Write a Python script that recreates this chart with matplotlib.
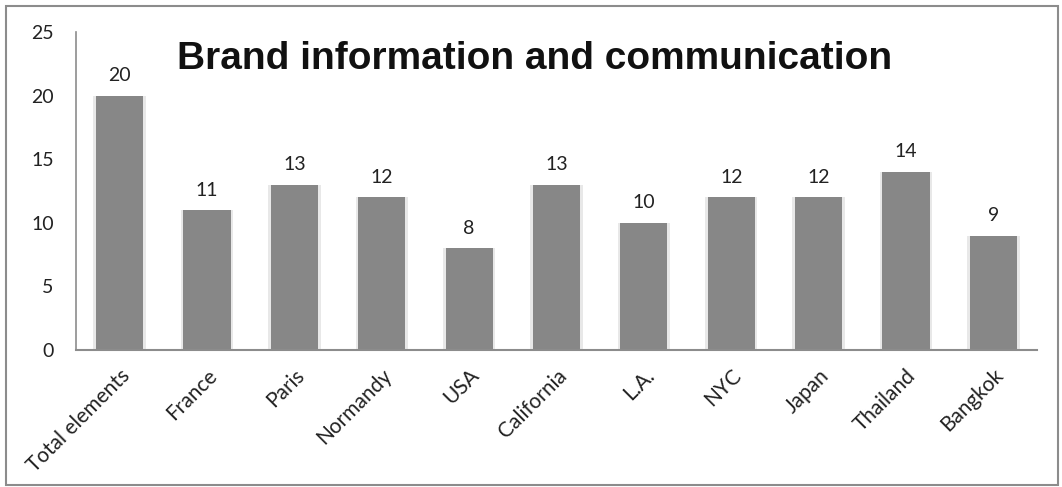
import matplotlib.pyplot as plt
from matplotlib.patches import Rectangle

categories = ["Total elements", "France", "Paris", "Normandy", "USA", "California",
              "L.A.", "NYC", "Japan", "Thailand", "Bangkok"]
values = [20, 11, 13, 12, 8, 13, 10, 12, 12, 14, 9]
yticks = [0, 5, 10, 15, 20, 25]

plt.rcParams['font.family'] = ['Lato', 'DejaVu Sans']

fig = plt.figure(figsize=(10.62, 4.87), dpi=100)
ax = fig.add_axes([76/1062, 1 - 350/487, (1037-76)/1062, (350-32)/487])

x = range(len(categories))
# light shadow behind each bar
ax.bar(x, values, width=0.6, color="#e8e8e8", zorder=1)
bars = ax.bar(x, values, width=0.54, color="#878787", zorder=2)

for xi, v in zip(x, values):
    ax.text(xi, v + 0.9, str(v), ha="center", va="bottom", fontsize=14, color="#222222")

ax.set_xlim(-0.5, len(categories) - 0.5)
ax.set_ylim(0, 25)
ax.set_yticks(yticks)
ax.set_yticklabels([str(t) for t in yticks], fontsize=14, color="#222222")
ax.set_xticks(list(x))
ax.set_xticklabels(categories, rotation=45, ha="right", rotation_mode="anchor",
                   fontsize=15, color="#222222")
ax.tick_params(axis="y", length=0, pad=16)
ax.tick_params(axis="x", length=0, pad=11)

for s in ["top", "right"]:
    ax.spines[s].set_visible(False)
ax.spines["left"].set_color("#8c8c8c")
ax.spines["bottom"].set_color("#8c8c8c")
ax.spines["left"].set_linewidth(1.2)
ax.spines["bottom"].set_linewidth(1.5)

fig.text(535/1062, 1 - 59/487, "Brand information and communication",
         ha="center", va="center", fontsize=28, fontweight="bold",
         family=["Liberation Sans", "DejaVu Sans"], color="#111111")

fig.patches.append(Rectangle((6/1062, 2/487), 1052/1062, 479/487, transform=fig.transFigure,
                             fill=False, edgecolor="#8c8c8c", linewidth=1.5))

fig.savefig("out.png", dpi=100)
